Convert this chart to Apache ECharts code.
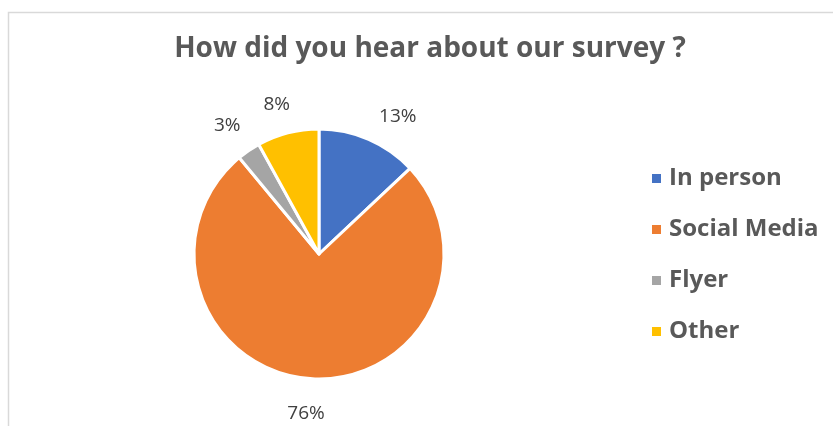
<!DOCTYPE html>
<html><head><meta charset="utf-8">
<script src="https://cdn.jsdelivr.net/npm/echarts@6/dist/echarts.min.js"></script>
<style>html,body{margin:0;padding:0;background:#fff}#c{width:833px;height:426px}</style>
</head><body><div id="c"></div>
<script>
const titleText = 'How did you hear about our survey ?';
const categories = ['In person', 'Social Media', 'Flyer', 'Other'];
const values = [13, 76, 3, 8];
const colors = ['#4472C4', '#ED7D31', '#A5A5A5', '#FFC000'];
const labelShift = [[16, 6], [-3, 0], [-3, 0], [-3, 2]];

const chart = echarts.init(document.getElementById('c'));
const data = categories.map((n, i) => ({ name: n, value: values[i], itemStyle: { color: colors[i] } }));
const labelData = categories.map((n, i) => ({ name: n, value: values[i], label: { offset: labelShift[i] } }));
chart.setOption({
  animation: false,
  graphic: [{
    type: 'rect', silent: true, z: -1,
    shape: { x: 8.5, y: 12.5, width: 1000, height: 600 },
    style: { fill: 'none', stroke: '#d9d9d9', lineWidth: 1.5 }
  }],
  title: {
    text: titleText, left: 425, top: 30, textAlign: 'center',
    textStyle: { fontFamily: 'Open Sans', fontWeight: 'bold', fontSize: 28, color: '#595959' }
  },
  legend: {
    orient: 'vertical', left: 645, top: 158,
    data: categories,
    icon: 'rect', itemWidth: 11, itemHeight: 11, itemGap: 20,
    textStyle: { fontFamily: 'Open Sans', fontWeight: 'bold', fontSize: 24, color: '#595959', lineHeight: 31, padding: [0, 0, 0, 2] }
  },
  series: [{
    type: 'pie', center: [319, 254], radius: 125, startAngle: 90, clockwise: true,
    data: data,
    itemStyle: { borderColor: '#ffffff', borderWidth: 3 },
    label: { show: false }, labelLine: { show: false }, silent: true
  }, {
    type: 'pie', center: [319, 256], radius: [145, 165], startAngle: 90, clockwise: true,
    data: labelData, silent: true, legendHoverLink: false,
    itemStyle: { color: 'rgba(0,0,0,0)' },
    label: {
      show: true, position: 'inside', formatter: p => p.value + '%',
      fontFamily: 'Open Sans', fontSize: 19, color: '#404040'
    },
    labelLine: { show: false }
  }]
});
</script></body></html>
